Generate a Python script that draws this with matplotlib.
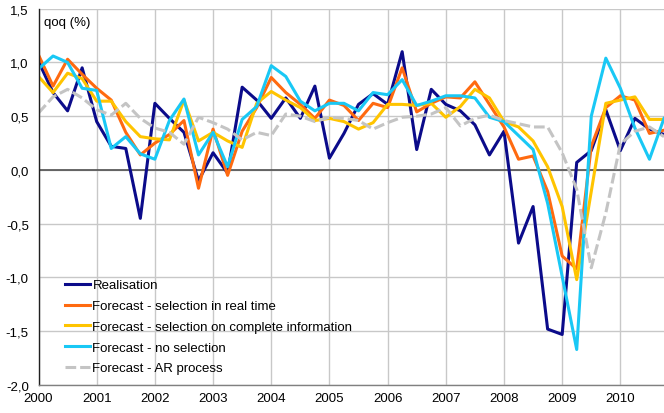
import matplotlib
matplotlib.use("Agg")
import matplotlib.pyplot as plt
import numpy as np

plt.rcParams['font.family'] = ['Liberation Sans', 'DejaVu Sans']

start_year = 2000.0
n_quarters = 44
year_ticks = list(range(2000, 2011))
y_ticks = [-2.0, -1.5, -1.0, -0.5, 0.0, 0.5, 1.0, 1.5]

realisation = [1.01, 0.72, 0.55, 0.95, 0.45, 0.22, 0.20, -0.45, 0.62, 0.48, 0.35, -0.10,
               0.16, -0.03, 0.77, 0.65, 0.48, 0.67, 0.48, 0.78, 0.11, 0.34, 0.61, 0.71,
               0.61, 1.10, 0.19, 0.75, 0.61, 0.55, 0.42, 0.14, 0.36, -0.68, -0.34, -1.48,
               -1.53, 0.07, 0.18, 0.56, 0.18, 0.48, 0.38, 0.33]
fc_realtime = [1.07, 0.78, 1.03, 0.89, 0.76, 0.65, 0.35, 0.14, 0.25, 0.33, 0.46, -0.17,
               0.38, -0.05, 0.36, 0.58, 0.86, 0.72, 0.61, 0.48, 0.65, 0.60, 0.46, 0.62,
               0.58, 0.95, 0.54, 0.62, 0.68, 0.67, 0.82, 0.61, 0.40, 0.10, 0.13, -0.20,
               -0.80, -0.92, 0.22, 0.58, 0.69, 0.65, 0.34, 0.37]
fc_complete = [0.87, 0.72, 0.90, 0.85, 0.64, 0.64, 0.45, 0.31, 0.29, 0.28, 0.65, 0.27,
               0.35, 0.27, 0.21, 0.62, 0.73, 0.65, 0.58, 0.46, 0.48, 0.45, 0.38, 0.44,
               0.61, 0.61, 0.60, 0.62, 0.49, 0.59, 0.75, 0.67, 0.45, 0.40, 0.27, 0.03,
               -0.34, -1.02, -0.20, 0.62, 0.65, 0.68, 0.47, 0.47]
fc_noselect = [0.94, 1.06, 1.00, 0.76, 0.74, 0.20, 0.31, 0.15, 0.10, 0.46, 0.66, 0.14,
               0.35, 0.03, 0.47, 0.59, 0.97, 0.87, 0.64, 0.55, 0.62, 0.62, 0.55, 0.72,
               0.70, 0.84, 0.60, 0.64, 0.69, 0.69, 0.67, 0.49, 0.45, 0.32, 0.19, -0.31,
               -0.99, -1.67, 0.50, 1.04, 0.76, 0.39, 0.10, 0.48]
fc_ar = [0.53, 0.68, 0.75, 0.67, 0.56, 0.51, 0.62, 0.48, 0.39, 0.35, 0.24, 0.49,
         0.44, 0.38, 0.28, 0.35, 0.32, 0.52, 0.50, 0.45, 0.49, 0.48, 0.46, 0.38,
         0.44, 0.49, 0.50, 0.52, 0.58, 0.41, 0.48, 0.51, 0.46, 0.43, 0.40, 0.40,
         0.16, -0.18, -0.91, -0.40, 0.24, 0.36, 0.40, 0.31]

labels = ["Realisation",
          "Forecast - selection in real time",
          "Forecast - selection on complete information",
          "Forecast - no selection",
          "Forecast - AR process"]

t = start_year + 0.25 * np.arange(n_quarters)

fig = plt.figure(figsize=(6.64, 4.14), dpi=100)
ax = fig.add_axes([38.5 / 664, 28 / 414, 1 - 38.5 / 664, (386 - 9.7) / 414])

ax.set_xlim(2000, 2010.75)
ax.set_ylim(-2.0, 1.5)
ax.set_xticks(year_ticks)
ax.set_xticklabels([str(y) for y in year_ticks])
ax.set_yticks(y_ticks)
ax.set_yticklabels([f"{v:.1f}".replace('.', ',') for v in y_ticks])
ax.grid(True, color='#c8c8c8', linewidth=1.0)
ax.set_axisbelow(True)
ax.tick_params(axis='both', length=0, labelsize=9.5, colors='black')
ax.tick_params(axis='y', pad=7)
ax.tick_params(axis='x', pad=5)
for s in ['top', 'right']:
    ax.spines[s].set_visible(False)
ax.spines['left'].set_color('#202020')
ax.spines['left'].set_linewidth(1.0)
ax.spines['bottom'].set_color('#808080')
ax.spines['bottom'].set_linewidth(1.0)
ax.axhline(0, color='#505050', linewidth=1.2, zorder=1.5)

lw = 2.2
ax.plot(t, realisation, color='#0b0b8a', lw=lw, label=labels[0])
ax.plot(t, fc_realtime, color='#ff6a10', lw=lw, label=labels[1])
ax.plot(t, fc_complete, color='#ffc400', lw=lw, label=labels[2])
ax.plot(t, fc_noselect, color='#19c8f5', lw=lw, label=labels[3])
ax.plot(t, fc_ar, color='#c4c4c4', lw=lw, dashes=(3.5, 1.3), label=labels[4])

ax.text(0.009, 0.965, "qoq (%)", transform=ax.transAxes, fontsize=9.5,
        ha='left', va='center')

ax.legend(loc='upper left', bbox_to_anchor=(0.042, 0.281), borderaxespad=0,
          borderpad=0, frameon=False, fontsize=9.5, handlelength=1.9,
          handletextpad=0.2, labelspacing=0.64)

fig.savefig("out.png", dpi=100)
